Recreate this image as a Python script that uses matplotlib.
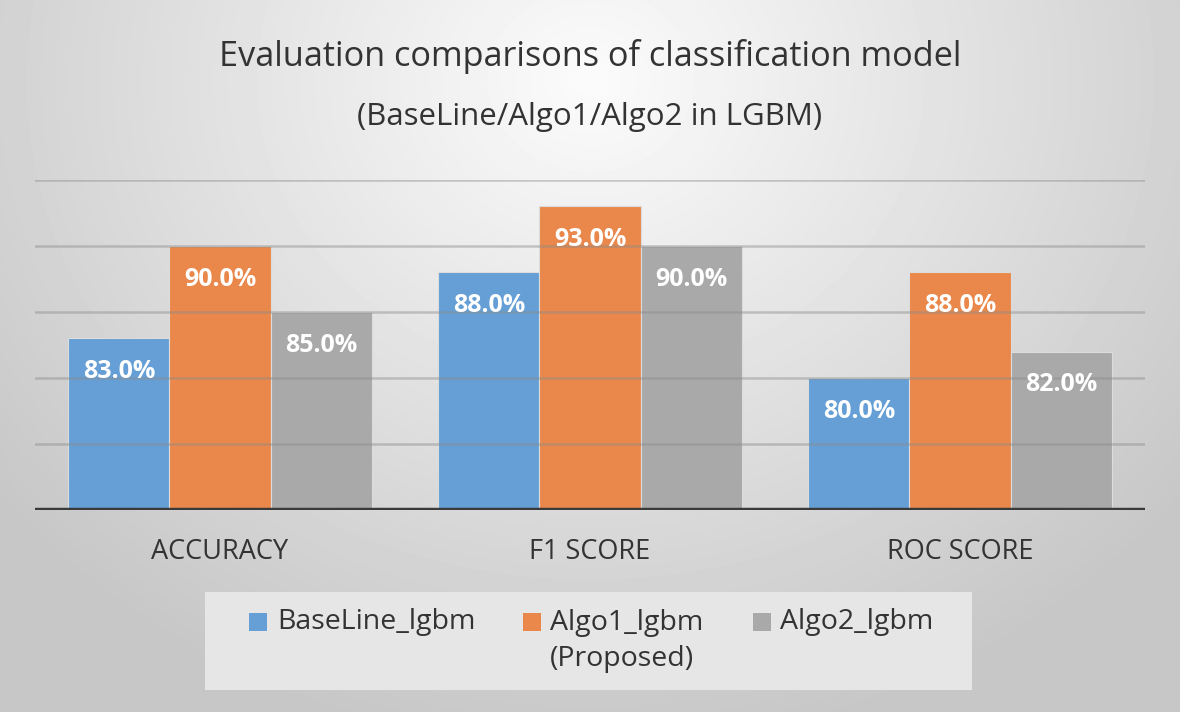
import numpy as np
import matplotlib.pyplot as plt
from matplotlib.patches import Rectangle

categories = ['ACCURACY', 'F1 SCORE', 'ROC SCORE']
series = ['BaseLine_lgbm', 'Algo1_lgbm\n(Proposed)', 'Algo2_lgbm']
baseline = [83.0, 88.0, 80.0]
algo1 = [90.0, 93.0, 88.0]
algo2 = [85.0, 90.0, 82.0]
colors = ['#659fd6', '#e9884a', '#a9a9a9']

plt.rcParams['font.family'] = ['Open Sans', 'DejaVu Sans']

W, H = 1180, 712
fig = plt.figure(figsize=(W / 100, H / 100), dpi=100)

# radial gray background, lighter near the title
bg = fig.add_axes([0, 0, 1, 1], zorder=-10)
yy, xx = np.mgrid[0:H, 0:W]
r = np.sqrt(((xx - 590) / 700.0) ** 2 + ((yy - 80) / 620.0) ** 2)
shade = np.clip(0.985 - 0.19 * r, 0.78, 1.0)
bg.imshow(shade, cmap='gray', vmin=0, vmax=1, aspect='auto', interpolation='bilinear')
bg.axis('off')

ax = fig.add_axes([35 / W, 1 - 510 / H, 1110 / W, 330 / H])
ax.set_facecolor('none')

x = np.arange(len(categories))
w = 0.273
for i, (vals, c) in enumerate(zip([baseline, algo1, algo2], colors)):
    bars = ax.bar(x + (i - 1) * w, vals, width=w, color=c, edgecolor='#dcdcdc',
                  linewidth=0.8, zorder=2)
    for b, v in zip(bars, vals):
        ax.annotate('{:.1f}%'.format(v), (b.get_x() + b.get_width() / 2, v),
                    xytext=(0, -24), textcoords='offset points', ha='center', va='center',
                    color='white', fontsize=18, fontweight='bold', zorder=4)

ax.set_ylim(70, 95)
ax.set_xlim(-0.5, 2.5)
for g in [75, 80, 85, 90, 95]:
    ax.axhline(g, color='#8c8c8c', lw=1.8, alpha=0.45, zorder=3)
ax.axhline(70, color='#3a3a3a', lw=3.2, zorder=5)

for s in ax.spines.values():
    s.set_visible(False)
ax.set_yticks([])
ax.set_xticks(x)
ax.set_xticklabels(categories, fontsize=19.5, color='#333333')
ax.tick_params(axis='x', length=0, pad=20)

fig.text(0.5, 1 - 57 / H, 'Evaluation comparisons of classification model',
         ha='center', va='center', fontsize=24.7, color='#333333')
fig.text(0.5, 1 - 117 / H, '(BaseLine/Algo1/Algo2 in LGBM)',
         ha='center', va='center', fontsize=22.5, color='#333333')

# legend box drawn by hand so the two-line label hangs below its marker
fig.patches.append(Rectangle((205 / W, 1 - 690 / H), 767 / W, 98 / H,
                             transform=fig.transFigure, facecolor='#e6e6e6',
                             edgecolor='none', zorder=1))
marker_x = [258, 532, 762]
text_x = [277, 550, 780]
for mx, tx, lab, c in zip(marker_x, text_x, series, colors):
    fig.patches.append(Rectangle(((mx - 9) / W, 1 - 631 / H), 18 / W, 18 / H,
                                 transform=fig.transFigure, facecolor=c,
                                 edgecolor='none', zorder=2))
    nlines = lab.count('\n') + 1
    yc = 622 + (nlines - 1) * 19
    fig.text(tx / W, 1 - yc / H, lab, ha='left', va='center', fontsize=20.5,
             color='#333333', linespacing=1.42, zorder=3)

fig.savefig('out.png', dpi=100)
